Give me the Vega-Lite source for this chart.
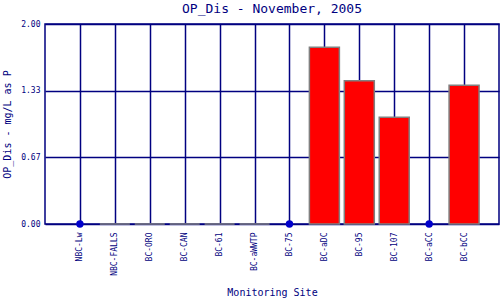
{
  "$schema": "https://vega.github.io/schema/vega-lite/v6.json",
  "autosize": "none",
  "width": 454,
  "height": 200,
  "padding": {"left": 45, "top": 24, "right": 1, "bottom": 76},
  "background": "white",
  "title": {
    "text": "OP_Dis - November, 2005",
    "font": "DejaVu Sans Mono",
    "fontSize": 13,
    "fontWeight": "normal",
    "color": "#000080",
    "anchor": "middle",
    "offset": 8,
    "dy": 4
  },
  "config": {
    "view": {"stroke": "#000080", "strokeWidth": 1.5},
    "axis": {
      "labelFont": "DejaVu Sans Mono",
      "titleFont": "DejaVu Sans Mono",
      "labelColor": "#000080",
      "titleColor": "#000080",
      "titleFontWeight": "normal",
      "gridColor": "#000080",
      "gridOpacity": 1,
      "gridWidth": 1.5,
      "domain": false,
      "ticks": false
    }
  },
  "data": {
    "values": [
      {"site": "NBC-Lw", "value": 0, "kind": "point"},
      {"site": "NBC-FALLS", "value": 0, "kind": "bar"},
      {"site": "BC-ORO", "value": 0, "kind": "bar"},
      {"site": "BC-CAN", "value": 0, "kind": "bar"},
      {"site": "BC-61", "value": 0, "kind": "bar"},
      {"site": "BC-aWWTP", "value": 0, "kind": "bar"},
      {"site": "BC-75", "value": 0, "kind": "point"},
      {"site": "BC-aDC", "value": 1.767, "kind": "bar"},
      {"site": "BC-95", "value": 1.433, "kind": "bar"},
      {"site": "BC-107", "value": 1.067, "kind": "bar"},
      {"site": "BC-aCC", "value": 0, "kind": "point"},
      {"site": "BC-bCC", "value": 1.387, "kind": "bar"}
    ]
  },
  "encoding": {
    "x": {
      "field": "site",
      "type": "nominal",
      "sort": ["NBC-Lw", "NBC-FALLS", "BC-ORO", "BC-CAN", "BC-61", "BC-aWWTP", "BC-75", "BC-aDC", "BC-95", "BC-107", "BC-aCC", "BC-bCC"],
      "scale": {"type": "point", "padding": 1},
      "axis": {
        "title": "Monitoring Site",
        "titleFontSize": 10,
        "titlePadding": 12,
        "labelFontSize": 8,
        "labelAngle": -90,
        "labelPadding": 8,
        "grid": true
      }
    },
    "y": {
      "field": "value",
      "type": "quantitative",
      "scale": {"domain": [0, 2], "nice": false, "zero": true},
      "axis": {
        "title": "OP_Dis - mg/L as P",
        "titleFontSize": 10,
        "titlePadding": 8,
        "labelFontSize": 8,
        "labelPadding": 5,
        "values": [0, 0.6667, 1.3333, 2],
        "format": ".2f",
        "grid": true
      }
    }
  },
  "layer": [
    {
      "transform": [{"filter": "datum.kind === 'bar'"}],
      "mark": {"type": "bar", "size": 30, "color": "#FF0000", "stroke": "#808080", "strokeWidth": 1.5}
    },
    {
      "transform": [{"filter": "datum.kind === 'point'"}],
      "mark": {"type": "point", "filled": true, "size": 55, "color": "#0000CC", "opacity": 1, "clip": false}
    }
  ]
}
